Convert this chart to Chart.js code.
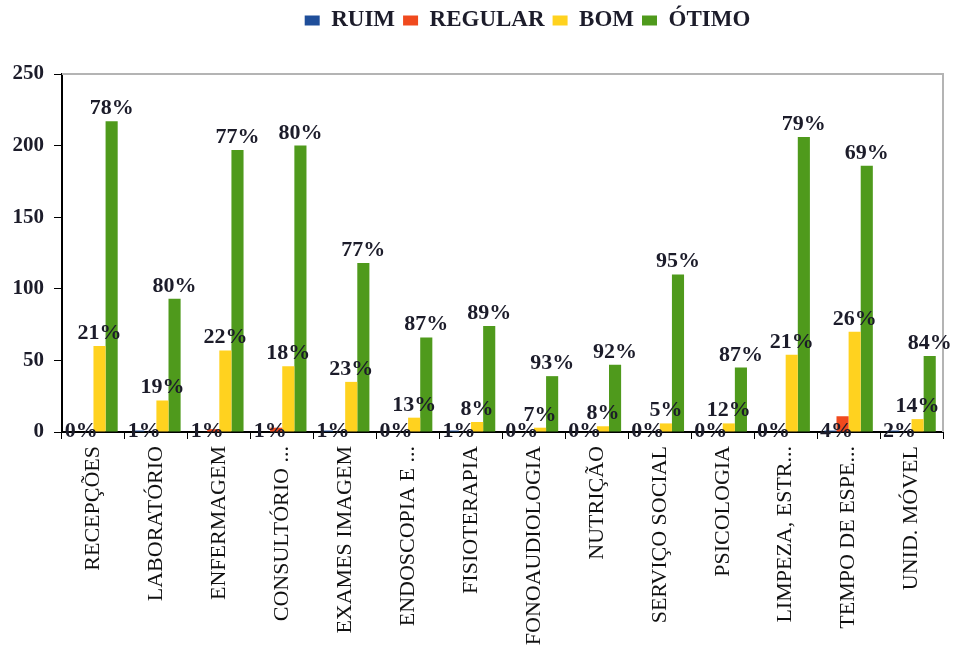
<!DOCTYPE html>
<html lang="pt">
<head>
<meta charset="utf-8">
<title>Avaliação dos serviços</title>
<script src="https://cdn.jsdelivr.net/npm/chart.js@4.4.1/dist/chart.umd.min.js"></script>
<style>
  html, body { margin: 0; padding: 0; background: #ffffff; }
  #wrap { width: 954px; height: 657px; }
</style>
</head>
<body>
<div id="wrap"><canvas id="avaliacao-chart" width="954" height="657"></canvas></div>
<script>
// Categorias e valores
const categories = [
  'RECEPÇÕES', 'LABORATÓRIO', 'ENFERMAGEM', 'CONSULTÓRIO ...', 'EXAMES IMAGEM',
  'ENDOSCOPIA E ...', 'FISIOTERAPIA', 'FONOAUDIOLOGIA', 'NUTRIÇÃO', 'SERVIÇO SOCIAL',
  'PSICOLOGIA', 'LIMPEZA, ESTR...', 'TEMPO DE ESPE...', 'UNID. MÓVEL'
];
const ruim    = [0, 1, 0, 0, 1, 0, 1, 0, 0, 0, 0, 0, 1, 1];
const regular = [0, 0, 2, 3, 0, 0, 0, 0, 0, 0, 0, 0, 11, 0];
const bom     = [60, 22, 57, 46, 35, 10, 7, 3, 4, 6, 6, 54, 70, 9];
const otimo   = [217, 93, 197, 200, 118, 66, 74, 39, 47, 110, 45, 206, 186, 53];

// Rótulos percentuais como aparecem no original
const baseLabels  = ['0%', '1%', '1%', '1%', '1%', '0%', '1%', '0%', '0%', '0%', '0%', '0%', '4%', '2%'];
const bomLabels   = ['21%', '19%', '22%', '18%', '23%', '13%', '8%', '7%', '8%', '5%', '12%', '21%', '26%', '14%'];
const otimoLabels = ['78%', '80%', '77%', '80%', '77%', '87%', '89%', '93%', '92%', '95%', '87%', '79%', '69%', '84%'];

const yTicks = [0, 50, 100, 150, 200, 250];

const SERIF = '"Liberation Serif", "Times New Roman", serif';
const INK = '#1c1c2a';

const ChartModule = {
  chart: null,

  colors: {
    ruim: '#1f4e9a',
    regular: '#f04a1e',
    bom: '#ffd21f',
    otimo: '#4f9a1c',
    frame: '#b4b4b4'
  },

  // percent labels drawn over the bars
  labelsPlugin: {
    id: 'pctLabels',
    afterDatasetsDraw(chart) {
      const ctx = chart.ctx;
      const y0 = chart.scales.y.getPixelForValue(0);
      ctx.save();
      ctx.font = 'bold 22px ' + SERIF;
      ctx.fillStyle = INK;
      ctx.textAlign = 'center';

      // RUIM / REGULAR share one label sitting on the axis
      const ruimBars = chart.getDatasetMeta(0).data;
      const regBars = chart.getDatasetMeta(1).data;
      ctx.textBaseline = 'middle';
      baseLabels.forEach(function(t, i) {
        ctx.fillText(t, (ruimBars[i].x + regBars[i].x) / 2, y0 - 1);
      });

      ctx.textBaseline = 'alphabetic';
      [[2, bomLabels], [3, otimoLabels]].forEach(function(pair) {
        chart.getDatasetMeta(pair[0]).data.forEach(function(bar, i) {
          ctx.fillText(pair[1][i], bar.x, bar.y - 7);
        });
      });
      ctx.restore();
    }
  },

  // legend sits higher and a bit right of the plot centre in the original
  legendShift: {
    id: 'legendShift',
    afterLayout(chart) {
      const lg = chart.legend;
      if (!lg) return;
      lg.left += 25;
      lg.right += 25;
      lg.top -= 32;
      lg.bottom -= 32;
    }
  },

  // gray frame line on top and right of the plot
  framePlugin: {
    id: 'plotFrame',
    beforeDatasetsDraw(chart) {
      const a = chart.chartArea;
      const ctx = chart.ctx;
      ctx.save();
      ctx.strokeStyle = ChartModule.colors.frame;
      ctx.lineWidth = 2;
      ctx.beginPath();
      ctx.moveTo(a.left, a.top);
      ctx.lineTo(a.right, a.top);
      ctx.lineTo(a.right, a.bottom);
      ctx.stroke();
      ctx.restore();
    }
  },

  init: function() {
    const ctx = document.getElementById('avaliacao-chart');
    const c = this.colors;
    const series = [
      ['RUIM', ruim, c.ruim],
      ['REGULAR', regular, c.regular],
      ['BOM', bom, c.bom],
      ['ÓTIMO', otimo, c.otimo]
    ];

    this.chart = new Chart(ctx, {
      type: 'bar',
      data: {
        labels: categories,
        datasets: series.map(function(s) {
          return {
            label: s[0],
            data: s[1],
            backgroundColor: s[2],
            borderWidth: 0,
            categoryPercentage: 0.77,
            barPercentage: 1
          };
        })
      },
      options: {
        responsive: false,
        animation: false,
        layout: { padding: { top: 33, right: 11, left: 0, bottom: 0 } },
        plugins: {
          legend: {
            position: 'top',
            fullSize: false,
            labels: {
              color: INK,
              font: { family: SERIF, size: 23, weight: 'bold' },
              boxWidth: 15,
              boxHeight: 10,
              padding: 8
            }
          },
          tooltip: { enabled: false }
        },
        scales: {
          x: {
            grid: {
              offset: true,
              drawOnChartArea: false,
              tickColor: '#000000',
              tickLength: 7
            },
            border: { display: true, color: '#000000', width: 2 },
            ticks: {
              color: '#111111',
              font: { family: SERIF, size: 22 },
              minRotation: 90,
              maxRotation: 90,
              autoSkip: false,
              padding: 7
            },
            afterFit: function(scale) { scale.height = 225; }
          },
          y: {
            min: 0,
            max: 250,
            afterBuildTicks: function(scale) {
              scale.ticks = yTicks.map(function(v) { return { value: v }; });
            },
            grid: {
              drawOnChartArea: false,
              tickColor: '#000000',
              tickLength: 8
            },
            border: { display: true, color: '#000000', width: 2 },
            ticks: {
              color: INK,
              font: { family: SERIF, size: 21, weight: 'bold' },
              padding: 10
            },
            afterFit: function(scale) { scale.width = 62; }
          }
        }
      },
      plugins: [this.labelsPlugin, this.legendShift, this.framePlugin]
    });
  }
};

ChartModule.init();
</script>
</body>
</html>
